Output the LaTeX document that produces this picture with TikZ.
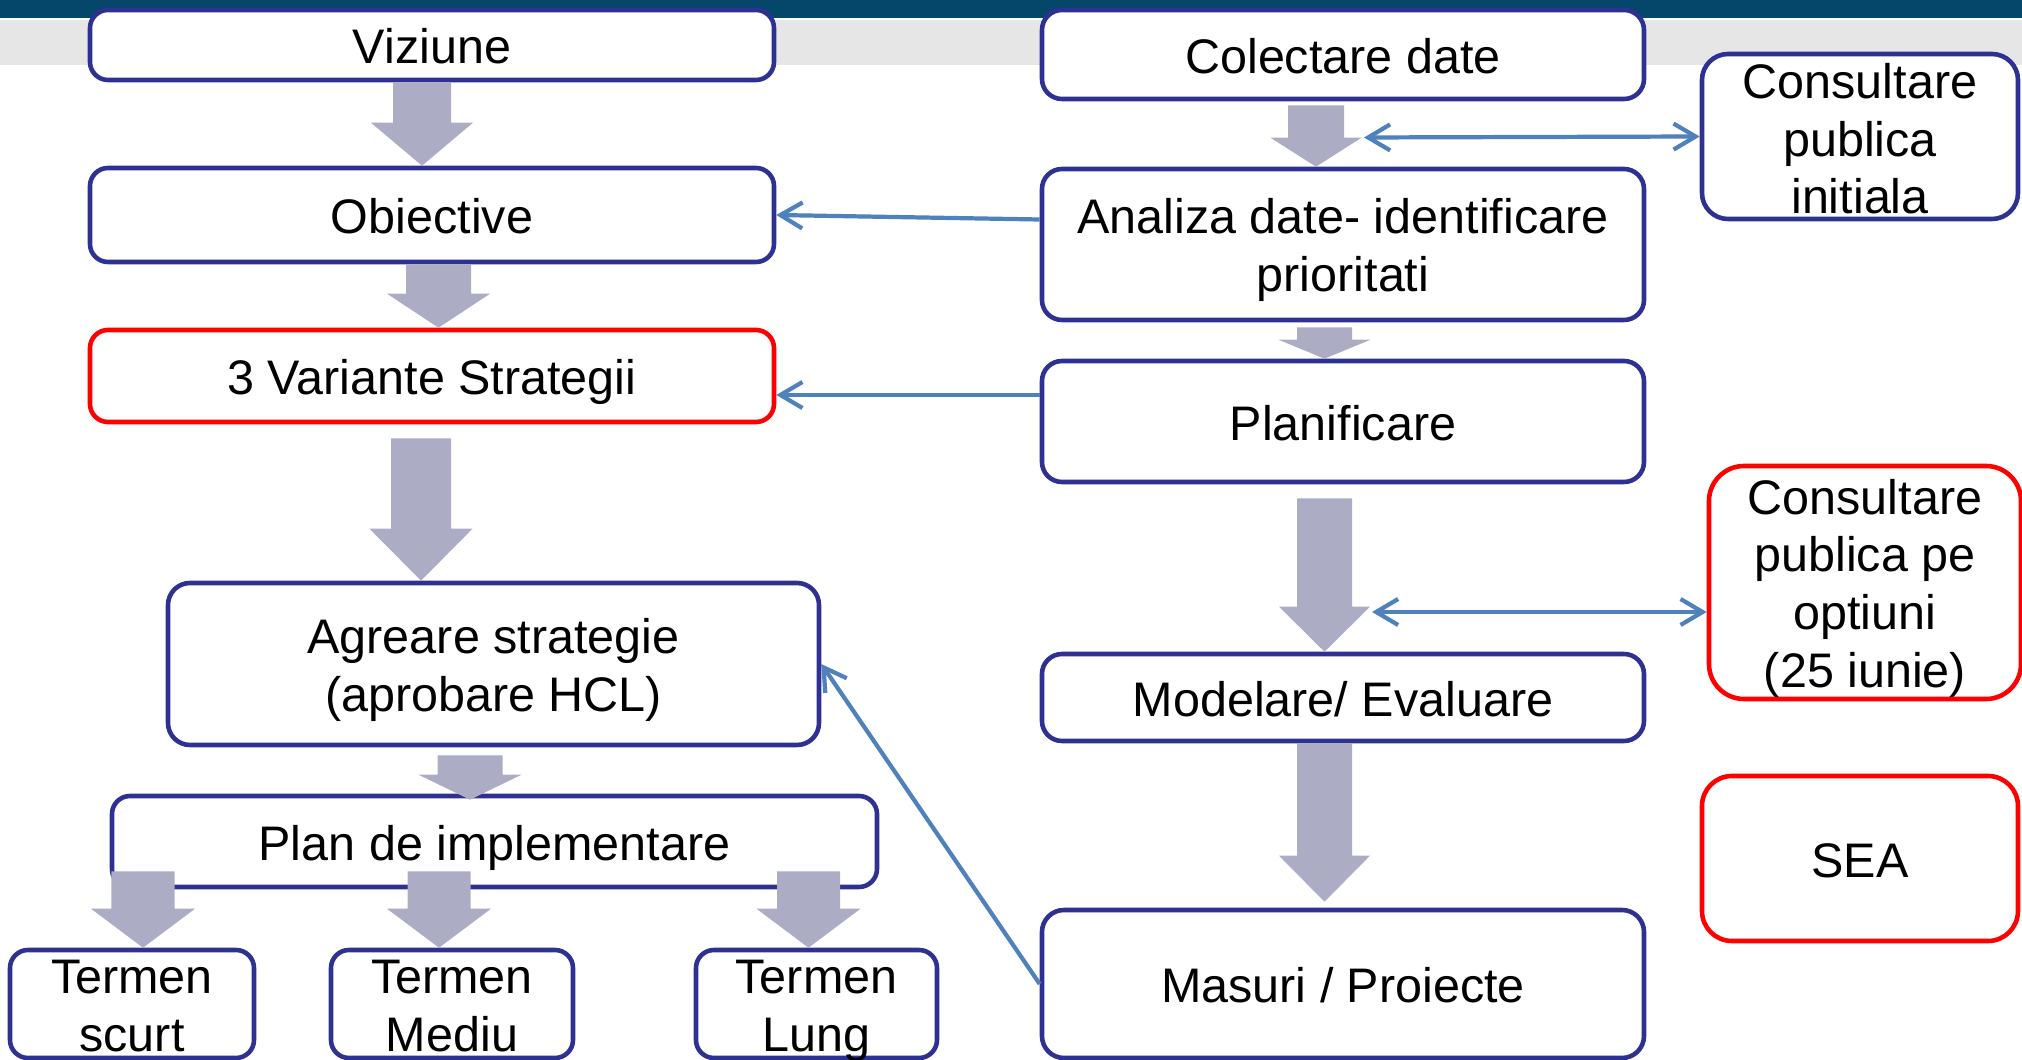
\documentclass[tikz,border=0pt]{standalone}
\usepackage{fontspec}
\setmainfont{Liberation Sans}
\usetikzlibrary{arrows.meta,calc,positioning}
\definecolor{stageNavy}{HTML}{2E3192}
\definecolor{stageRed}{HTML}{FF0000}
\definecolor{flowGray}{HTML}{ACADC4}
\definecolor{linkBlue}{HTML}{4F81BD}
\definecolor{barDark}{HTML}{04476B}
\definecolor{barGray}{HTML}{E6E6E6}
\newcommand{\boxfont}{\fontsize{13.8}{16.4}\selectfont}
\tikzset{
  >={Straight Barb[length=2.2mm,width=2.6mm]},
  stage/.style={draw=stageNavy, fill=white, line width=1.3pt,
    rounded corners=1.8mm, align=center, font=\boxfont, inner sep=0pt,
    execute at begin node={\rule{0pt}{13.5pt}},
    execute at end node={\rule[-2.9pt]{0pt}{2.9pt}}},
  stage red/.style={stage, draw=stageRed},
  stage text/.style={align=center, font=\boxfont, inner sep=0pt},
  lines/.style args={#1 shifted #2}{label={[stage text, yshift=#2]center:{#1\rule[-2.9pt]{0pt}{2.9pt}}}},
  flow arrow/.style={fill=flowGray},
  link/.style={draw=linkBlue, line width=1.2pt, ->}
}
% block arrow: from, to, x, head length, shaft half width, head half width
\newcommand{\flowarrow}[6]{%
  \fill[flow arrow] let \p1=#1, \p2=#2 in
    (#3-#5,\y1) -- (#3+#5,\y1) -- (#3+#5,\y2+#4) -- (#3+#6,\y2+#4)
    -- (#3,\y2) -- (#3-#6,\y2+#4) -- (#3-#5,\y2+#4) -- cycle;}

\begin{document}
\begin{tikzpicture}[x=1cm,y=1cm]
  \useasboundingbox (0,0) rectangle (20.22,-10.6);
  \fill[white] (0,0) rectangle (20.22,-10.6);
  \fill[barDark] (0,0) rectangle (20.22,-0.185);
  \fill[barGray] (0,-0.2) rectangle (20.22,-0.65);

  % strategy column
  \node[stage, minimum width=6.84cm, minimum height=0.70cm] (viz) at (4.32,-0.45) {Viziune};
  \node[stage, minimum width=6.84cm, minimum height=0.94cm] (obj) at (4.32,-2.15) {Obiective};
  \node[stage red, minimum width=6.84cm, minimum height=0.92cm] (var) at (4.32,-3.76) {3 Variante Strategii};
  \node[stage, rounded corners=2.2mm, minimum width=6.51cm, minimum height=1.62cm,
    lines={Agreare strategie\\(aprobare HCL) shifted -1.8pt}] (agr) at (4.935,-6.64) {};
  \node[stage, minimum width=7.65cm, minimum height=0.91cm] (plan) at (4.945,-8.415) {Plan de implementare};
  \node[stage, minimum width=2.44cm, minimum height=1.08cm,
    lines={Termen\\scurt shifted -1.9pt}] (scurt) at (1.32,-10.04) {};
  \node[stage, minimum width=2.42cm, minimum height=1.08cm,
    lines={Termen\\Mediu shifted -1.9pt}] (mediu) at (4.52,-10.04) {};
  \node[stage, minimum width=2.41cm, minimum height=1.08cm,
    lines={Termen\\Lung shifted -1.9pt}] (lung) at (8.165,-10.04) {};

  % analysis column
  \node[stage, rounded corners=2mm, minimum width=6.02cm, minimum height=0.89cm] (col) at (13.43,-0.545) {Colectare date};
  \node[stage, rounded corners=2mm, minimum width=6.02cm, minimum height=1.51cm,
    lines={Analiza date- identificare\\prioritati shifted -1.6pt}] (ana) at (13.43,-2.445) {};
  \node[stage, rounded corners=2mm, minimum width=6.02cm, minimum height=1.21cm] (planif) at (13.43,-4.215) {Planificare};
  \node[stage, rounded corners=2mm, minimum width=6.02cm, minimum height=0.87cm] (mod) at (13.43,-6.975) {Modelare/ Evaluare};
  \node[stage, rounded corners=2.2mm, minimum width=6.02cm, minimum height=1.48cm] (mas) at (13.43,-9.84) {Masuri / Proiecte};

  % consultation
  \node[stage, rounded corners=2.6mm, minimum width=3.16cm, minimum height=1.65cm,
    lines={Consultare\\publica\\initiala shifted -2.1pt}] (cinit) at (18.6,-1.365) {};
  \node[stage red, rounded corners=3.5mm, minimum width=3.12cm, minimum height=2.33cm,
    lines={Consultare\\publica pe\\optiuni\\(25 iunie) shifted -1.6pt}] (copt) at (18.65,-5.825) {};
  \node[stage red, rounded corners=3mm, minimum width=3.16cm, minimum height=1.65cm] (sea)
    at (18.6,-8.585) {SEA};

  % links
  \draw[link] ([yshift=2.5mm]ana.west) -- (obj.east);
  \draw[link] ([yshift=2.65mm]planif.west) -- ([yshift=2.65mm]planif.west -| var.east);
  \draw[link] (mas.west) -- (agr.east);
  \coordinate (colend) at (13.64,-1.375);
  \draw[link,<->] (colend) -- (cinit.west);
  \coordinate (modend) at (13.72,-6.12);
  \draw[link,<->] (modend) -- (modend -| copt.west);

  % block arrows
  \flowarrow{(viz.south)}{(obj.north)}{4.22cm}{4.3mm}{2.9mm}{5.1mm}
  \flowarrow{(obj.south)}{(var.north)}{4.385cm}{3.4mm}{3.25mm}{5.15mm}
  \flowarrow{([yshift=-1.4mm]var.south)}{(agr.north)}{4.21cm}{5.2mm}{3.0mm}{5.15mm}
  \flowarrow{([yshift=-0.8mm]agr.south)}{([yshift=-0.6mm]plan.north)}{4.70cm}{2.5mm}{3.25mm}{5.15mm}
  \flowarrow{([yshift=1.8mm]plan.south)}{(scurt.north)}{1.43cm}{3.9mm}{3.15mm}{5.2mm}
  \flowarrow{([yshift=1.8mm]plan.south)}{(mediu.north)}{4.39cm}{3.9mm}{3.15mm}{5.2mm}
  \flowarrow{([yshift=1.8mm]plan.south)}{(lung.north)}{8.085cm}{3.9mm}{3.15mm}{5.2mm}
  \flowarrow{([yshift=-0.4mm]col.south)}{(ana.north)}{13.16cm}{2.9mm}{2.8mm}{4.55mm}
  \flowarrow{([yshift=-0.5mm]ana.south)}{(planif.north)}{13.245cm}{1.9mm}{2.75mm}{4.6mm}
  \flowarrow{([yshift=-1.4mm]planif.south)}{(mod.north)}{13.245cm}{4.5mm}{2.75mm}{4.55mm}
  \flowarrow{(mod.south)}{([yshift=0.6mm]mas.north)}{13.245cm}{4.6mm}{2.75mm}{4.55mm}
\end{tikzpicture}
\end{document}
